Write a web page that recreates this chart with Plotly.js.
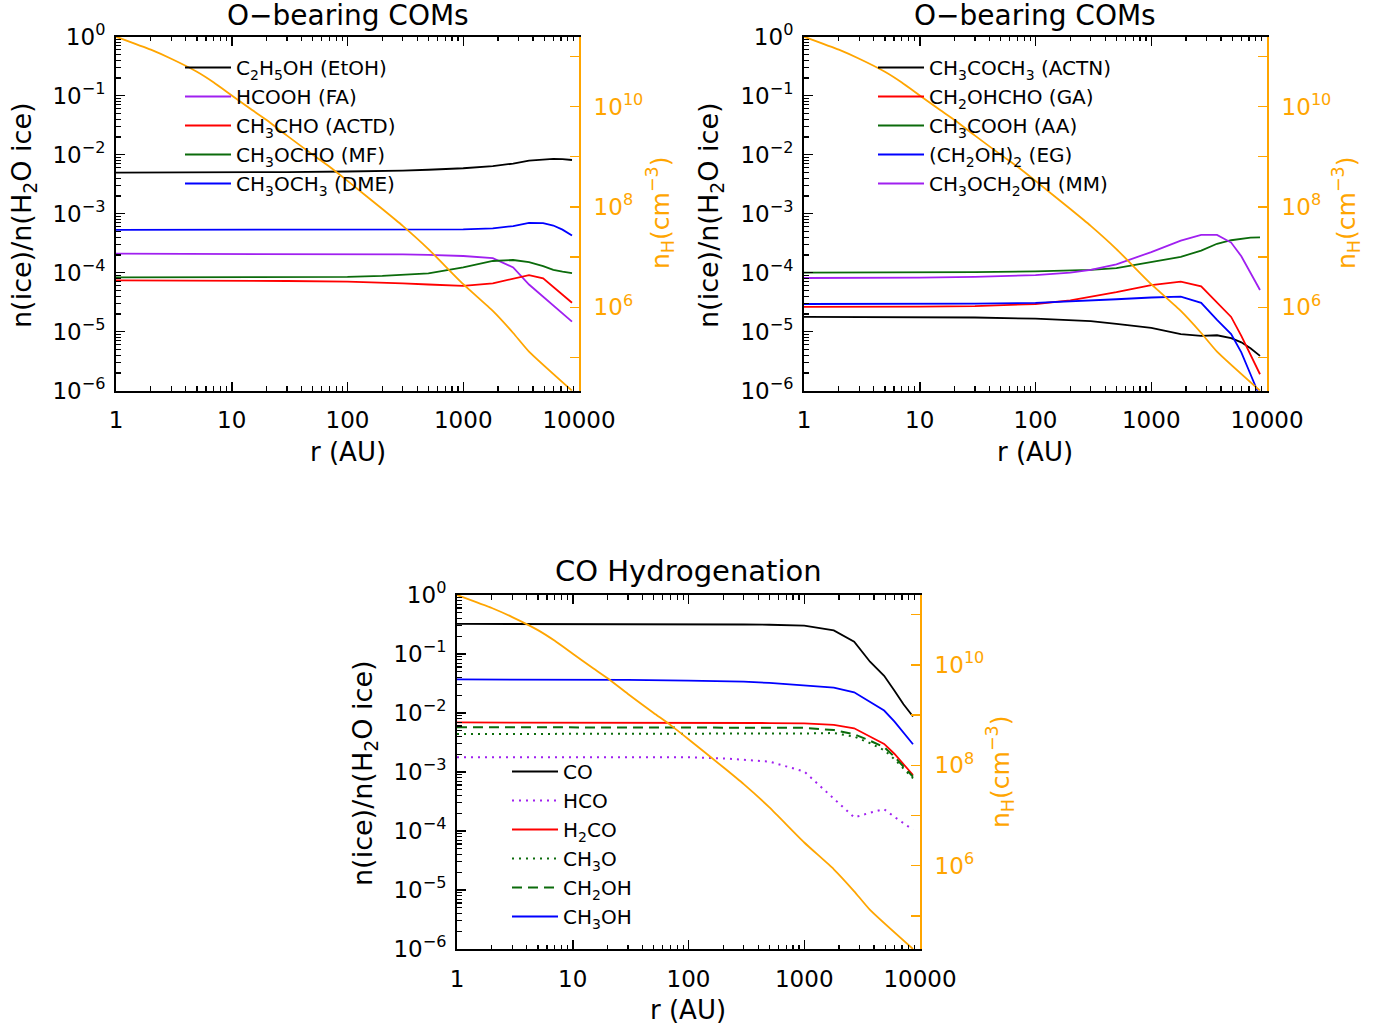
<!DOCTYPE html>
<html>
<head>
<meta charset="utf-8">
<script src="https://cdn.plot.ly/plotly-3.0.1.min.js"></script>
<style>
  html, body { margin: 0; padding: 0; background: #ffffff; }
  #plot { width: 1387px; height: 1031px; }
</style>
</head>
<body>
<div id="plot"></div>
<script>
// ---------------- data ----------------
const r = [1, 3, 10, 30, 100, 200, 300, 500, 1000, 1800, 2700, 3700, 4900, 6000, 7200, 8700];

// density profile n_H (cm^-3)
const rH = [1, 2, 3, 5, 7, 10, 15, 20, 30, 50, 70, 100, 200, 300, 500, 1000, 1800, 2700, 3700, 8700];
const nH = [2.45e11, 1.35e11, 8.9e10, 4.9e10, 3.0e10, 1.66e10, 8.5e9, 5.4e9, 2.63e9, 1.1e9, 6.3e8, 3.3e8,
            9.1e7, 4.2e7, 1.45e7, 2.9e6, 8.5e5, 3.1e5, 1.32e5, 2.2e4];

// Panel 1: O-bearing COMs
const EtOH = [4.95e-3, 4.95e-3, 5.0e-3, 5.07e-3, 5.19e-3, 5.25e-3, 5.37e-3, 5.56e-3, 5.89e-3, 6.38e-3, 7.08e-3, 7.94e-3, 8.32e-3, 8.51e-3, 8.41e-3, 8.13e-3];
const FA   = [2.1e-4, 2.1e-4, 2.1e-4, 2.1e-4, 2.1e-4, 2.07e-4, 2.04e-4, 2.0e-4, 1.92e-4, 1.76e-4, 1.23e-4, 6.3e-5, 3.9e-5, 2.75e-5, 2.0e-5, 1.48e-5];
const ACTD = [7.41e-5, 7.41e-5, 7.33e-5, 7.24e-5, 7.08e-5, 6.84e-5, 6.61e-5, 6.31e-5, 5.96e-5, 6.61e-5, 7.85e-5, 9.12e-5, 8.04e-5, 5.75e-5, 4.27e-5, 3.09e-5];
const MF   = [8.32e-5, 8.32e-5, 8.32e-5, 8.36e-5, 8.51e-5, 8.81e-5, 9.12e-5, 9.77e-5, 1.23e-4, 1.58e-4, 1.64e-4, 1.51e-4, 1.29e-4, 1.12e-4, 1.04e-4, 9.8e-5];
const DME  = [5.33e-4, 5.33e-4, 5.33e-4, 5.33e-4, 5.33e-4, 5.33e-4, 5.33e-4, 5.33e-4, 5.43e-4, 5.62e-4, 6.17e-4, 7.0e-4, 6.92e-4, 6.31e-4, 5.37e-4, 4.27e-4];

// Panel 2: O-bearing COMs
const ACTN = [1.78e-5, 1.78e-5, 1.76e-5, 1.74e-5, 1.66e-5, 1.58e-5, 1.51e-5, 1.36e-5, 1.16e-5, 9.1e-6, 8.5e-6, 8.7e-6, 7.76e-6, 6.6e-6, 5.25e-6, 3.9e-6];
const GA   = [2.64e-5, 2.64e-5, 2.66e-5, 2.72e-5, 2.95e-5, 3.39e-5, 3.89e-5, 4.68e-5, 6.17e-5, 7.08e-5, 5.89e-5, 3.09e-5, 1.78e-5, 8.5e-6, 4.07e-6, 1.9e-6];
const AA   = [1.0e-4, 1.0e-4, 1.01e-4, 1.02e-4, 1.05e-4, 1.08e-4, 1.12e-4, 1.2e-4, 1.53e-4, 1.86e-4, 2.37e-4, 3.09e-4, 3.55e-4, 3.76e-4, 3.94e-4, 3.98e-4];
const EG   = [2.95e-5, 2.95e-5, 2.95e-5, 2.99e-5, 3.09e-5, 3.24e-5, 3.35e-5, 3.55e-5, 3.8e-5, 3.94e-5, 3.09e-5, 1.58e-5, 9.1e-6, 4.47e-6, 1.9e-6, 7.8e-7];
const MM   = [8.13e-5, 8.13e-5, 8.22e-5, 8.51e-5, 9.12e-5, 1.0e-4, 1.12e-4, 1.38e-4, 2.24e-4, 3.5e-4, 4.37e-4, 4.37e-4, 3.24e-4, 1.9e-4, 9.8e-5, 5.1e-5];

// Panel 3: CO hydrogenation
const CO    = [0.324, 0.324, 0.324, 0.324, 0.322, 0.32, 0.316, 0.313, 0.302, 0.251, 0.162, 0.074, 0.0427, 0.024, 0.0141, 0.0087];
const HCO   = [1.78e-3, 1.78e-3, 1.78e-3, 1.78e-3, 1.78e-3, 1.7e-3, 1.62e-3, 1.5e-3, 1.02e-3, 3.55e-4, 1.7e-4, 2.04e-4, 2.34e-4, 1.74e-4, 1.38e-4, 1.05e-4];
const H2CO  = [6.92e-3, 6.92e-3, 6.92e-3, 6.92e-3, 6.89e-3, 6.84e-3, 6.81e-3, 6.76e-3, 6.68e-3, 6.31e-3, 5.5e-3, 3.98e-3, 2.99e-3, 2.04e-3, 1.38e-3, 8.9e-4];
const CH3O  = [4.4e-3, 4.4e-3, 4.4e-3, 4.4e-3, 4.42e-3, 4.43e-3, 4.44e-3, 4.45e-3, 4.5e-3, 4.57e-3, 3.98e-3, 3.09e-3, 2.34e-3, 1.66e-3, 1.15e-3, 7.8e-4];
const CH2OH = [5.75e-3, 5.75e-3, 5.75e-3, 5.75e-3, 5.75e-3, 5.75e-3, 5.75e-3, 5.75e-3, 5.62e-3, 5.13e-3, 4.37e-3, 3.39e-3, 2.63e-3, 1.82e-3, 1.26e-3, 8.3e-4];
const CH3OH = [0.0372, 0.0372, 0.0367, 0.0363, 0.0355, 0.0347, 0.0339, 0.0324, 0.0295, 0.0269, 0.0224, 0.0151, 0.011, 0.0072, 0.0047, 0.00295];

// tick labels
const xTickVals = [1, 10, 100, 1000, 10000];
const xTickText = ['1', '10', '100', '1000', '10000'];
const yTickVals = [1e-6, 1e-5, 1e-4, 1e-3, 1e-2, 1e-1, 1];
const yTickText = ['10<sup>−6</sup>', '10<sup>−5</sup>', '10<sup>−4</sup>', '10<sup>−3</sup>', '10<sup>−2</sup>', '10<sup>−1</sup>', '10<sup>0</sup>'];
const nTickVals = [1e5, 1e6, 1e7, 1e8, 1e9, 1e10, 1e11];
const nTickText = ['', '10<sup>6</sup>', '', '10<sup>8</sup>', '', '10<sup>10</sup>', ''];

// ---------------- style ----------------
const W = 1387, H = 1031;
const FONT = 'DejaVu Sans';
const ORANGE = '#FFA500';
const C = { black: '#000000', purple: '#A020F0', red: '#FF0000', green: '#0B6B0B', blue: '#0000FF' };
const px = v => v / W;
const py = v => 1 - v / H;

function minorVals(lo, hi) {
  const out = [];
  for (let e = lo; e < hi; e++) for (let m = 2; m <= 9; m++) out.push(m * Math.pow(10, e));
  return out;
}

function xAxis(dom, anchor) {
  return {
    type: 'log', range: [0, 4], domain: dom, anchor: anchor,
    tickmode: 'array', tickvals: xTickVals, ticktext: xTickText,
    ticks: 'inside', ticklen: 9, tickwidth: 1.5, tickcolor: '#000',
    minor: { tickmode: 'array', tickvals: minorVals(0, 4), ticks: 'inside', ticklen: 4.5, tickwidth: 1.2, tickcolor: '#000' },
    showline: true, linecolor: '#000', linewidth: 2, mirror: 'ticks',
    showgrid: false, zeroline: false,
    tickfont: { family: FONT, size: 23, color: '#000' },
    ticklabelstandoff: 8
  };
}
function yAxis(dom, anchor) {
  return {
    type: 'log', range: [-6, 0], domain: dom, anchor: anchor,
    tickmode: 'array', tickvals: yTickVals, ticktext: yTickText,
    ticks: 'inside', ticklen: 9, tickwidth: 1.5, tickcolor: '#000',
    minor: { tickmode: 'array', tickvals: minorVals(-6, 0), ticks: 'inside', ticklen: 4.5, tickwidth: 1.2, tickcolor: '#000' },
    showline: true, linecolor: '#000', linewidth: 2, mirror: false,
    showgrid: false, zeroline: false,
    tickfont: { family: FONT, size: 23, color: '#000' },
    ticklabelstandoff: 4
  };
}
const nRange = [Math.log10(Math.min(...nH)), Math.log10(Math.max(...nH))];
function nAxis(over, anchor) {
  return {
    type: 'log', range: nRange, overlaying: over, anchor: anchor, side: 'right',
    tickmode: 'array', tickvals: nTickVals, ticktext: nTickText,
    ticks: 'inside', ticklen: 9, tickwidth: 1.5, tickcolor: ORANGE,
    showline: true, linecolor: ORANGE, linewidth: 2,
    showgrid: false, zeroline: false,
    tickfont: { family: FONT, size: 23, color: ORANGE },
    ticklabelstandoff: 8
  };
}

function line(x, y, name, color, xa, ya, legend, dash) {
  return {
    type: 'scatter', mode: 'lines', x: x, y: y, name: name,
    xaxis: xa, yaxis: ya, legend: legend,
    line: { color: color, width: dash ? 2 : 1.8, dash: dash || 'solid' },
    hoverinfo: 'skip'
  };
}
function density(xa, ya) {
  return { type: 'scatter', mode: 'lines', x: rH, y: nH, xaxis: xa, yaxis: ya, showlegend: false,
           line: { color: ORANGE, width: 1.8, shape: 'spline', smoothing: 0.5 }, hoverinfo: 'skip' };
}

const DOT = '2px,5px', DASH = '10px,6px';

const data = [
  line(r, EtOH, 'C<sub>2</sub>H<sub>5</sub>OH (EtOH)', C.black, 'x', 'y', 'legend'),
  line(r, FA, 'HCOOH (FA)', C.purple, 'x', 'y', 'legend'),
  line(r, ACTD, 'CH<sub>3</sub>CHO (ACTD)', C.red, 'x', 'y', 'legend'),
  line(r, MF, 'CH<sub>3</sub>OCHO (MF)', C.green, 'x', 'y', 'legend'),
  line(r, DME, 'CH<sub>3</sub>OCH<sub>3</sub> (DME)', C.blue, 'x', 'y', 'legend'),
  density('x', 'y2'),

  line(r, ACTN, 'CH<sub>3</sub>COCH<sub>3</sub> (ACTN)', C.black, 'x2', 'y3', 'legend2'),
  line(r, GA, 'CH<sub>2</sub>OHCHO (GA)', C.red, 'x2', 'y3', 'legend2'),
  line(r, AA, 'CH<sub>3</sub>COOH (AA)', C.green, 'x2', 'y3', 'legend2'),
  line(r, EG, '(CH<sub>2</sub>OH)<sub>2</sub> (EG)', C.blue, 'x2', 'y3', 'legend2'),
  line(r, MM, 'CH<sub>3</sub>OCH<sub>2</sub>OH (MM)', C.purple, 'x2', 'y3', 'legend2'),
  density('x2', 'y4'),

  line(r, CO, 'CO', C.black, 'x3', 'y5', 'legend3'),
  line(r, HCO, 'HCO', C.purple, 'x3', 'y5', 'legend3', DOT),
  line(r, H2CO, 'H<sub>2</sub>CO', C.red, 'x3', 'y5', 'legend3'),
  line(r, CH3O, 'CH<sub>3</sub>O', C.green, 'x3', 'y5', 'legend3', DOT),
  line(r, CH2OH, 'CH<sub>2</sub>OH', C.green, 'x3', 'y5', 'legend3', DASH),
  line(r, CH3OH, 'CH<sub>3</sub>OH', C.blue, 'x3', 'y5', 'legend3'),
  density('x3', 'y6')
];

const d1x = [px(116), px(579)], d2x = [px(804), px(1267)], d3x = [px(457), px(920)];
const dTop = [py(390.7), py(36.7)], dBot = [py(949), py(595)];

function legendAt(x, y) {
  return { x: px(x), y: py(y), xanchor: 'left', yanchor: 'top', bgcolor: 'rgba(0,0,0,0)',
           borderwidth: 0, font: { family: FONT, size: 20, color: '#000' }, tracegroupgap: 0,
           itemwidth: 46 };
}

function ann(text, x, y, size, color, angle) {
  return { text: text, x: px(x), y: py(y), xref: 'paper', yref: 'paper', showarrow: false,
           xanchor: 'center', yanchor: 'middle', textangle: angle || 0,
           font: { family: FONT, size: size, color: color || '#000' } };
}

const layout = {
  width: W, height: H, margin: { l: 0, r: 0, t: 0, b: 0 },
  paper_bgcolor: '#fff', plot_bgcolor: 'rgba(0,0,0,0)', showlegend: true,
  xaxis: xAxis(d1x, 'y'), yaxis: yAxis(dTop, 'x'), yaxis2: nAxis('y', 'x'),
  xaxis2: xAxis(d2x, 'y3'), yaxis3: yAxis(dTop, 'x2'), yaxis4: nAxis('y3', 'x2'),
  xaxis3: xAxis(d3x, 'y5'), yaxis5: yAxis(dBot, 'x3'), yaxis6: nAxis('y5', 'x3'),
  legend: legendAt(180, 48),
  legend2: legendAt(873, 48),
  legend3: legendAt(507, 752),
  annotations: [
    ann('O−bearing COMs', 348, 16, 28),
    ann('O−bearing COMs', 1035, 16, 28),
    ann('CO Hydrogenation', 688, 571, 29),
    ann('r (AU)', 348, 452, 26),
    ann('r (AU)', 1035, 452, 26),
    ann('r (AU)', 688, 1010, 26),
    ann('n(ice)/n(H<sub>2</sub>O ice)', 24, 215, 27, '#000', -90),
    ann('n(ice)/n(H<sub>2</sub>O ice)', 711, 215, 27, '#000', -90),
    ann('n(ice)/n(H<sub>2</sub>O ice)', 364, 773, 27, '#000', -90),
    ann('n<sub>H</sub>(cm<sup>−3</sup>)', 660, 213, 25, ORANGE, -90),
    ann('n<sub>H</sub>(cm<sup>−3</sup>)', 1346, 213, 25, ORANGE, -90),
    ann('n<sub>H</sub>(cm<sup>−3</sup>)', 1000, 772, 25, ORANGE, -90)
  ]
};

Plotly.newPlot('plot', data, layout, { staticPlot: true, displayModeBar: false });
</script>
</body>
</html>
